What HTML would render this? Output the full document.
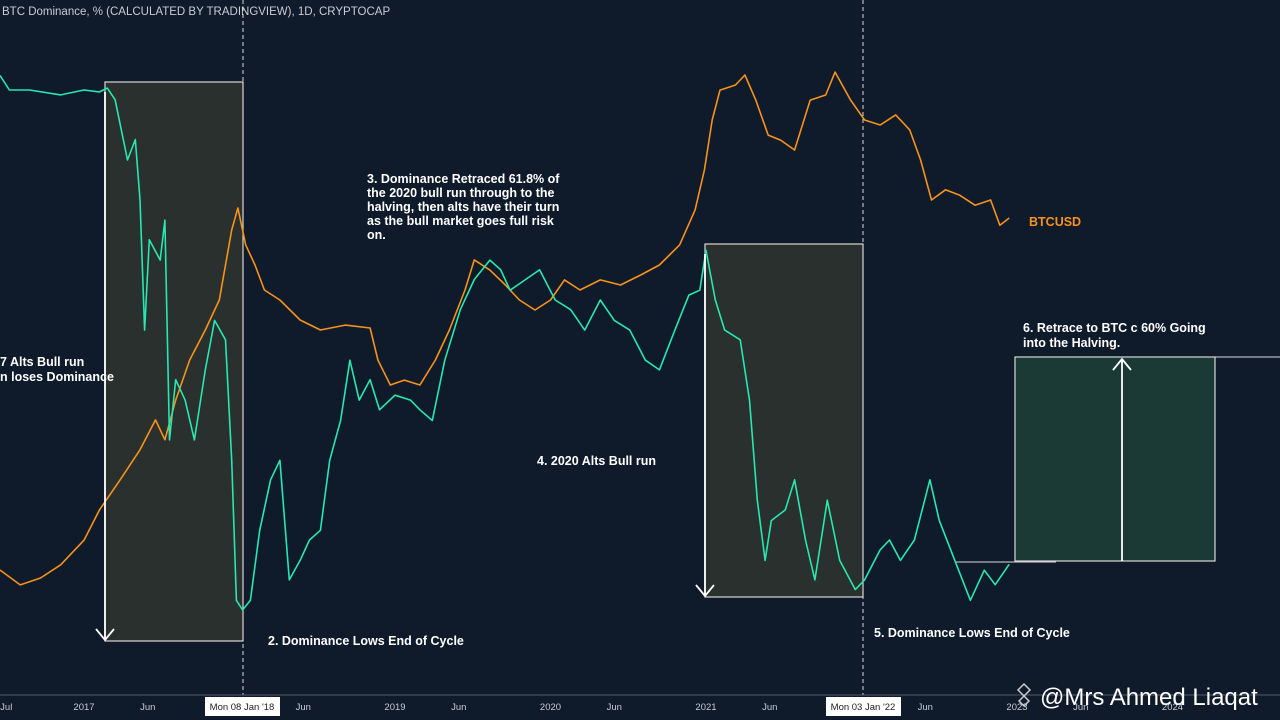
<!DOCTYPE html>
<html><head><meta charset="utf-8">
<style>
body{margin:0;background:#0f1a2b;width:1280px;height:720px;overflow:hidden;font-family:"Liberation Sans",sans-serif}
svg{display:block}
.ann{fill:#fff;font-weight:bold;font-size:12.5px}
.tick{fill:#c8ccd4;font-size:9.5px}
</style></head><body>
<svg id="chart" width="1280" height="720">
<rect width="1280" height="720" fill="#0f1a2b"/>
<text x="2" y="15" fill="#c8ccd4" font-size="11.5">BTC Dominance, % (CALCULATED BY TRADINGVIEW), 1D, CRYPTOCAP</text>
<rect x="105" y="82" width="138" height="559" fill="#2a302e" stroke="#d8d8d8" stroke-width="1.2"/>
<rect x="705" y="244" width="158" height="353" fill="#2a302e" stroke="#d8d8d8" stroke-width="1.2"/>
<rect x="1015" y="357" width="200" height="204" fill="#1c3a35" stroke="#d8d8d8" stroke-width="1.2"/>
<line x1="243" y1="0" x2="243" y2="695" stroke="#d8d8d8" stroke-dasharray="4,3"/>
<line x1="863" y1="0" x2="863" y2="695" stroke="#d8d8d8" stroke-dasharray="4,3"/>
<line x1="955" y1="562" x2="1056" y2="562" stroke="#d8d8d8"/>
<line x1="1215" y1="357" x2="1280" y2="357" stroke="#d8d8d8"/>
<g id="series"></g>
<g stroke="#fff" stroke-width="1.8" fill="none">
<path d="M105 92 V640 M96 629 L105 640 L114 629"/>
<path d="M705 254 V596 M696 585 L705 596 L714 585"/>
<path d="M1122 561 V359 M1113 370 L1122 359 L1131 370"/>
</g>
<text class="ann" x="0" y="366">7 Alts Bull run</text>
<text class="ann" x="0" y="381">n loses Dominance</text>
<g class="ann">
<text x="367" y="183">3. Dominance Retraced 61.8% of</text>
<text x="367" y="197">the 2020 bull run through to the</text>
<text x="367" y="211">halving, then alts have their turn</text>
<text x="367" y="225">as the bull market goes full risk</text>
<text x="367" y="239">on.</text></g>
<text class="ann" x="537" y="465">4. 2020 Alts Bull run</text>
<text class="ann" x="268" y="645">2. Dominance Lows End of Cycle</text>
<text class="ann" x="874" y="637">5. Dominance Lows End of Cycle</text>
<text class="ann" x="1023" y="332">6. Retrace to BTC c 60% Going</text>
<text class="ann" x="1023" y="347">into the Halving.</text>
<text x="1029" y="226" fill="#f7931a" font-size="12.5" font-weight="bold">BTCUSD</text>
<line x1="0" y1="695" x2="1280" y2="695" stroke="#555c68"/>
<g id="xticks"></g>
<rect x="205" y="697" width="75" height="19" fill="#fff"/>
<text x="242" y="710" text-anchor="middle" font-size="9.5" fill="#222">Mon 08 Jan '18</text>
<rect x="826" y="697" width="75" height="19" fill="#fff"/>
<text x="863" y="710" text-anchor="middle" font-size="9.5" fill="#222">Mon 03 Jan '22</text>
<text x="1040" y="705" fill="#fff" font-size="24">@Mrs Ahmed Liaqat</text>
<path d="M1024 684 l6 6 -6 6 -6 -6z M1024 696 l5 5 -5 5 -5 -5z" fill="none" stroke="#ccc" stroke-width="1.5"/>
</svg>
<script>
const tickLabels=["Jul","2017","Jun","Jun","2019","Jun","2020","Jun","2021","Jun","Jun","2023","Jun","2024"];
const tickTimes=[2016.5,2017,2017.41,2018.41,2019,2019.41,2020,2020.41,2021,2021.41,2022.41,2023,2023.41,2024];
const btcTimes=[2016.46,2016.59,2016.72,2016.85,2017.00,2017.10,2017.23,2017.36,2017.46,2017.52,2017.59,2017.68,2017.78,2017.87,2017.95,2017.99,2018.04,2018.10,2018.16,2018.26,2018.39,2018.52,2018.68,2018.84,2018.89,2018.97,2019.06,2019.16,2019.26,2019.35,2019.45,2019.51,2019.61,2019.71,2019.80,2019.90,2020.00,2020.09,2020.19,2020.32,2020.45,2020.58,2020.70,2020.83,2020.93,2020.99,2021.04,2021.09,2021.19,2021.25,2021.32,2021.40,2021.48,2021.57,2021.67,2021.77,2021.83,2021.93,2022.02,2022.12,2022.22,2022.31,2022.38,2022.45,2022.54,2022.63,2022.73,2022.83,2022.89,2022.95];
const btcPrices=[1043,920,975,1090,1340,1730,2220,2870,3690,3120,4360,6110,7870,10130,18250,21980,16100,13600,11020,10130,8560,7870,8200,8000,6110,4950,5160,4950,6110,7870,11020,14190,13030,11490,10130,9310,10130,11990,11020,11990,11490,12500,13600,16100,21620,30250,46100,59300,61900,67300,54500,40600,38900,35800,54500,56900,69000,54500,46100,44200,48100,42400,32900,23500,25600,24500,22500,23500,19000,20200];
const domTimes=[2016.46,2016.52,2016.65,2016.85,2017.00,2017.10,2017.15,2017.20,2017.24,2017.28,2017.33,2017.36,2017.39,2017.42,2017.49,2017.52,2017.55,2017.59,2017.65,2017.71,2017.78,2017.84,2017.91,2017.95,2017.98,2018.02,2018.07,2018.13,2018.20,2018.26,2018.32,2018.39,2018.45,2018.52,2018.58,2018.65,2018.71,2018.77,2018.84,2018.90,2019.00,2019.10,2019.16,2019.24,2019.32,2019.42,2019.51,2019.61,2019.68,2019.74,2019.84,2019.93,2020.03,2020.13,2020.22,2020.32,2020.41,2020.51,2020.61,2020.70,2020.80,2020.89,2020.96,2021.00,2021.06,2021.12,2021.22,2021.28,2021.33,2021.38,2021.42,2021.51,2021.57,2021.64,2021.70,2021.78,2021.86,2021.96,2022.02,2022.12,2022.18,2022.25,2022.34,2022.44,2022.50,2022.60,2022.70,2022.79,2022.86,2022.95];
const domValues=[88.5,87.0,87.0,86.5,87.0,86.8,87.2,86.0,82.9,79.8,81.9,75.7,62.3,71.6,69.5,73.6,51.0,57.2,55.1,51.0,58.2,63.3,61.3,48.9,34.5,33.5,34.5,41.7,46.9,48.9,36.6,38.6,40.7,41.7,48.9,53.0,59.2,55.1,57.2,54.1,55.6,55.1,54.1,53.0,59.2,64.4,67.5,69.5,68.5,66.4,67.5,68.5,65.4,64.4,62.3,65.4,63.3,62.3,59.2,58.2,62.3,65.9,66.4,70.5,65.4,62.3,61.3,55.1,44.8,38.6,42.7,43.8,46.9,40.7,36.6,44.8,38.6,35.6,36.6,39.7,40.7,38.6,40.7,46.9,42.7,38.6,34.5,37.6,36.1,38.2];
const X=t=>84+(t-2017)*155.5;
const Yd=d=>90+(87-d)*9.72;
const Yb=p=>575-(Math.log10(p)-3)*273.5;
const NS="http://www.w3.org/2000/svg";
const g=document.getElementById('series');
function line(ts,vs,yf,color,name){
  const p=document.createElementNS(NS,'path');
  p.setAttribute('d',ts.map((t,i)=>(i?'L':'M')+X(t).toFixed(1)+' '+yf(vs[i]).toFixed(1)).join(' '));
  p.setAttribute('fill','none');p.setAttribute('stroke',color);p.setAttribute('stroke-width','1.6');p.setAttribute('stroke-linejoin','round');
  
  
  g.appendChild(p);
}
line(btcTimes,btcPrices,Yb,'#f7931a','btcusd-line');
line(domTimes,domValues,Yd,'#26e8b0','btc-dominance-line');
const xt=document.getElementById('xticks');
tickLabels.forEach((l,i)=>{
  const tx=document.createElementNS(NS,'text');
  tx.setAttribute('x',X(tickTimes[i]));tx.setAttribute('y',710);tx.setAttribute('text-anchor','middle');tx.setAttribute('class','tick');
  tx.textContent=l;
  
  
  xt.appendChild(tx);
});
</script>
</body></html>
